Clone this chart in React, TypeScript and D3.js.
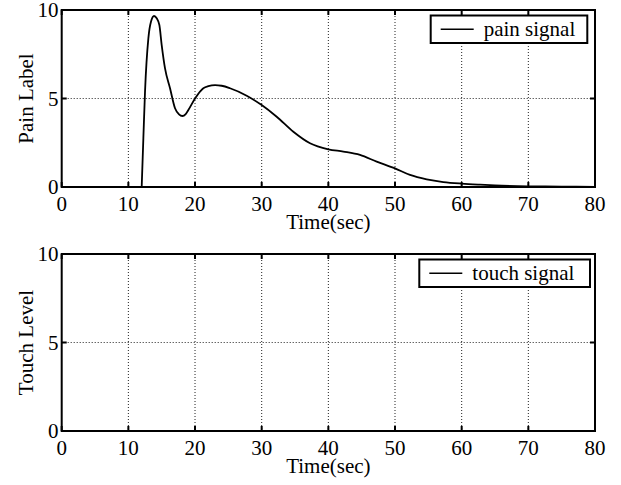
import React from 'react';
import * as d3 from 'd3';

// ---- data ----
const timeTicks = [0, 10, 20, 30, 40, 50, 60, 70, 80];
const levelTicks = [0, 5, 10];

const painTime = [
  12, 12.25, 12.5, 13, 13.4, 13.85, 14.25, 14.65, 15, 15.5, 16.25, 17, 17.6, 18.1, 18.6, 19,
  20, 21.25, 22, 23, 24, 25.25, 27.75, 30, 32.25, 34.75, 37.25, 40, 42.25, 44.75, 47.25, 50,
  52.25, 54.75, 57.25, 60, 62.75, 65, 70, 75, 80,
];
const painLevel = [
  0, 2.75, 5.4, 8.4, 9.35, 9.66, 9.53, 9.15, 8.02, 6.7, 5.58, 4.45, 4.1, 4.01, 4.12, 4.35,
  5.0, 5.58, 5.7, 5.76, 5.72, 5.58, 5.16, 4.63, 3.97, 3.12, 2.47, 2.13, 2.0, 1.81, 1.43, 1.05,
  0.68, 0.43, 0.28, 0.19, 0.13, 0.09, 0.04, 0.02, 0.01,
];

const touchTime = [0, 80];
const touchLevel = [0, 0];

const xLabel = 'Time(sec)';
const painYLabel = 'Pain Label';
const touchYLabel = 'Touch Level';
const painLegend = 'pain signal';
const touchLegend = 'touch signal';

// ---- layout ----
const W = 621;
const H = 485;
const PLOT_LEFT = 61.7;
const PLOT_RIGHT = 595;
const PLOT_H = 177;
const FONT = '"Liberation Serif", "Times New Roman", serif';
const FS = 21;

type PanelProps = {
  top: number;
  yLabel: string;
  legend: string;
  times: number[];
  values: number[];
  legendX0: number;
  legendX1: number;
};

function Panel({ top, yLabel, legend, times, values, legendX0, legendX1 }: PanelProps) {
  const bottom = top + PLOT_H;
  const x = d3.scaleLinear().domain([0, 80]).range([PLOT_LEFT, PLOT_RIGHT]);
  const y = d3.scaleLinear().domain([0, 10]).range([bottom, top]);
  const pts: [number, number][] = times.map((t, i) => [t, values[i]]);
  const line = d3
    .line<[number, number]>()
    .x((d) => x(d[0]))
    .y((d) => y(d[1]))
    .curve(d3.curveMonotoneX);
  const tickLen = 5;
  const legTop = top + 5.5;
  const legBot = top + 33;
  const legMid = (legTop + legBot) / 2;
  const lineStart = legendX0 + 10;
  const lineEnd = lineStart + 33;
  const textStart = lineEnd + 10;
  const midY = (top + bottom) / 2;

  return (
    <g>
      <rect x={PLOT_LEFT} y={top} width={PLOT_RIGHT - PLOT_LEFT} height={PLOT_H} fill="#fff" />
      {/* grid */}
      {timeTicks
        .filter((t) => t > 0 && t < 80)
        .map((t) => (
          <line
            key={'gx' + t}
            x1={x(t)}
            x2={x(t)}
            y1={top}
            y2={bottom}
            stroke="#222"
            strokeWidth={1}
            strokeDasharray="1,2"
          />
        ))}
      {levelTicks
        .filter((v) => v > 0 && v < 10)
        .map((v) => (
          <line
            key={'gy' + v}
            x1={PLOT_LEFT}
            x2={PLOT_RIGHT}
            y1={y(v)}
            y2={y(v)}
            stroke="#222"
            strokeWidth={1}
            strokeDasharray="1,2"
          />
        ))}
      {/* data */}
      <path d={line(pts) || ''} fill="none" stroke="#000" strokeWidth={1.8} />
      {/* ticks */}
      {timeTicks.map((t) => (
        <g key={'tx' + t}>
          <line x1={x(t)} x2={x(t)} y1={bottom} y2={bottom - tickLen} stroke="#000" strokeWidth={2} />
          <line x1={x(t)} x2={x(t)} y1={top} y2={top + tickLen} stroke="#000" strokeWidth={2} />
          <text
            x={x(t)}
            y={bottom + 24}
            textAnchor="middle"
            fontFamily={FONT}
            fontSize={FS}
            fill="#000"
          >
            {t}
          </text>
        </g>
      ))}
      {levelTicks.map((v) => (
        <g key={'ty' + v}>
          <line x1={PLOT_LEFT} x2={PLOT_LEFT + tickLen} y1={y(v)} y2={y(v)} stroke="#000" strokeWidth={2} />
          <line x1={PLOT_RIGHT} x2={PLOT_RIGHT - tickLen} y1={y(v)} y2={y(v)} stroke="#000" strokeWidth={2} />
          <text
            x={58.5}
            y={y(v) + 7}
            textAnchor="end"
            fontFamily={FONT}
            fontSize={FS}
            fill="#000"
          >
            {v}
          </text>
        </g>
      ))}
      {/* frame */}
      <rect
        x={PLOT_LEFT}
        y={top}
        width={PLOT_RIGHT - PLOT_LEFT}
        height={PLOT_H}
        fill="none"
        stroke="#000"
        strokeWidth={2}
      />
      {/* legend */}
      <rect
        x={legendX0}
        y={legTop}
        width={legendX1 - legendX0}
        height={legBot - legTop}
        fill="#fff"
        stroke="#000"
        strokeWidth={2}
      />
      <line x1={lineStart} x2={lineEnd} y1={legMid} y2={legMid} stroke="#000" strokeWidth={1.3} />
      <text x={textStart} y={legMid + 6.5} fontFamily={FONT} fontSize={FS} fill="#000">
        {legend}
      </text>
      {/* axis labels */}
      <text
        x={(PLOT_LEFT + PLOT_RIGHT) / 2}
        y={bottom + 42}
        textAnchor="middle"
        fontFamily={FONT}
        fontSize={FS}
        fill="#000"
      >
        {xLabel}
      </text>
      <text
        transform={`translate(32.5, ${midY}) rotate(-90)`}
        textAnchor="middle"
        fontFamily={FONT}
        fontSize={FS}
        fill="#000"
      >
        {yLabel}
      </text>
    </g>
  );
}

export default function App() {
  return (
    <svg
      width={W}
      height={H}
      style={{ position: 'fixed', left: 0, top: 0, background: '#fff' }}
    >
      <rect x={0} y={0} width={W} height={H} fill="#fff" />
      <Panel
        top={10}
        yLabel={painYLabel}
        legend={painLegend}
        times={painTime}
        values={painLevel}
        legendX0={430.7}
        legendX1={587.3}
      />
      <Panel
        top={254}
        yLabel={touchYLabel}
        legend={touchLegend}
        times={touchTime}
        values={touchLevel}
        legendX0={419.3}
        legendX1={590}
      />
    </svg>
  );
}
